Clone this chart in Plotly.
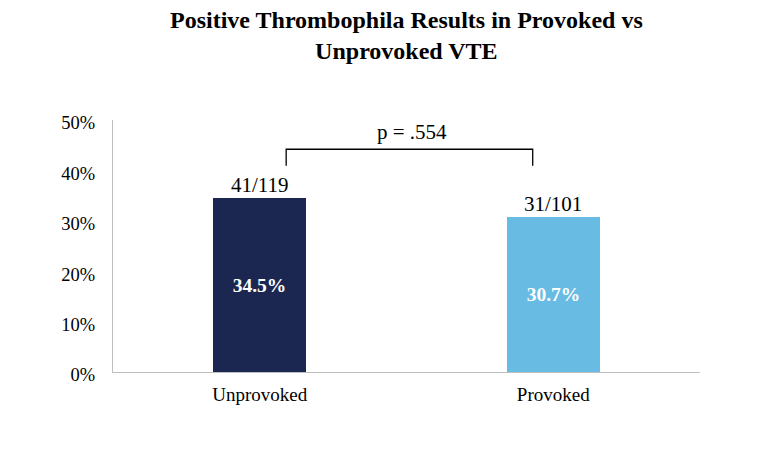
import plotly.graph_objects as go

categories = ["Unprovoked", "Provoked"]
values = [34.5, 30.7]
fractions = ["41/119", "31/101"]
colors = ["#1c2751", "#68bbe3"]
p_label = "p = .554"
title_text = "<b>Positive Thrombophila Results in Provoked vs<br>Unprovoked VTE</b>"
y_ticks = [0, 10, 20, 30, 40, 50]
y_tick_labels = ["0%", "10%", "20%", "30%", "40%", "50%"]

FONT = "Liberation Serif, Times New Roman, serif"

fig = go.Figure()
fig.add_trace(go.Bar(
    x=categories, y=values, width=0.317,
    marker=dict(color=colors, line=dict(width=0)),
    text=[f"{v}%" for v in values], textposition="inside",
    insidetextanchor="middle",
    textfont=dict(family=FONT, size=19.5, color="white", weight="bold"),
    hoverinfo="skip",
))

for c, v, f in zip(categories, values, fractions):
    fig.add_annotation(x=c, y=v, text=f, showarrow=False, yanchor="bottom",
                       yshift=-1, font=dict(family=FONT, size=21, color="black"))

# bracket
bx0, bx1 = 0.09, 0.93
by_top, by_bot = 44.2, 40.9
fig.add_shape(type="path", xref="x", yref="y",
              path=f"M {bx0} {by_bot} L {bx0} {by_top} L {bx1} {by_top} L {bx1} {by_bot}",
              line=dict(color="black", width=1.3))
fig.add_annotation(x=0.52, y=by_top, text=p_label, showarrow=False, yanchor="bottom",
                   yshift=3, font=dict(family=FONT, size=21, color="black"))

fig.add_annotation(xref="paper", yref="paper", x=0.5, y=1.455, yanchor="top",
                   xanchor="center", text=title_text, showarrow=False,
                   font=dict(family=FONT, size=24, color="black"))

fig.update_layout(
    width=762, height=473,
    margin=dict(l=113, r=62, t=120, b=101),
    paper_bgcolor="white", plot_bgcolor="white",
    showlegend=False,
    font=dict(family=FONT, color="black"),
    bargap=0,
)
fig.update_xaxes(showline=True, linecolor="#bfbfbf", linewidth=1.3,
                 ticks="", ticklabelstandoff=5,
                 tickfont=dict(family=FONT, size=19, color="black"),
                 showgrid=False, range=[-0.5, 1.5])
fig.update_yaxes(showline=True, linecolor="#bfbfbf", linewidth=1.3,
                 range=[0, 50], tickvals=y_ticks, ticktext=y_tick_labels,
                 ticks="outside", ticklen=13, tickcolor="rgba(0,0,0,0)",
                 ticklabelshift=3,
                 tickfont=dict(family=FONT, size=18.5, color="black"),
                 showgrid=False, zeroline=False)

fig.write_html("out.html")
